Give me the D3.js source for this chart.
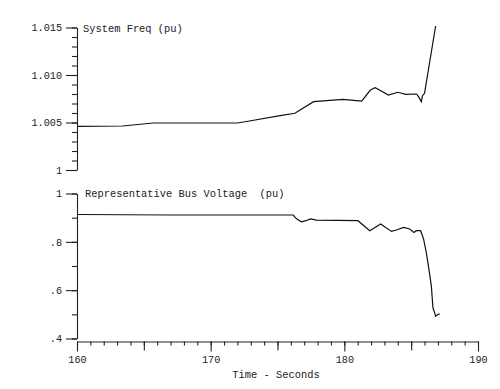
<!DOCTYPE html>
<html>
<head>
<meta charset="utf-8">
<script src="https://cdn.jsdelivr.net/npm/d3@7"></script>
<style>
  body { margin: 0; background: #fff; }
  text { font-family: "Liberation Mono", "DejaVu Sans Mono", monospace; fill: #222; }
  .axis text { font-size: 10.2px; }
  .label { font-size: 10.4px; white-space: pre; }
</style>
</head>
<body>
<svg width="500" height="389"></svg>
<script>
"use strict";

// system frequency (pu) vs time (s)
const freqTime = [160, 163.4, 165.7, 172.0, 172.9, 175.2, 176.3, 177.7, 179.9, 181.3, 181.95, 182.3, 182.5, 183.3, 184.0, 184.6, 185.4, 185.55, 185.76, 185.84, 186.0, 186.83];
const freqValue = [1.0046, 1.00463, 1.00495, 1.00495, 1.00516, 1.00572, 1.00597, 1.00719, 1.00744, 1.00726, 1.00842, 1.00866, 1.00853, 1.00789, 1.00818, 1.00797, 1.0080, 1.00772, 1.00719, 1.00779, 1.00807, 1.01516];

// representative bus voltage (pu) vs time (s)
const voltTime = [160, 167, 176.17, 176.42, 176.79, 177.12, 177.47, 177.92, 181.02, 181.9, 182.72, 183.52, 183.89, 184.44, 184.89, 185.21, 185.39, 185.71, 185.93, 186.13, 186.33, 186.51, 186.63, 186.76, 186.83, 187.0, 187.13];
const voltValue = [0.913, 0.911, 0.911, 0.895, 0.883, 0.8875, 0.895, 0.890, 0.8875, 0.846, 0.874, 0.843, 0.849, 0.860, 0.853, 0.839, 0.846, 0.846, 0.811, 0.756, 0.686, 0.617, 0.527, 0.506, 0.492, 0.499, 0.502];

const freqTicks = [1, 1.005, 1.010, 1.015];
const freqTickLabels = ["1", "1.005", "1.010", "1.015"];
const voltTicks = [0.4, 0.6, 0.8, 1];
const voltTickLabels = [".4", ".6", ".8", "1"];
const timeTicks = [160, 170, 180, 190];

const svg = d3.select("svg");

const xScale = d3.scaleLinear().domain([160, 190]).range([77, 478]);
const yFreq = d3.scaleLinear().domain([1, 1.015]).range([170, 27.5]);
const yVolt = d3.scaleLinear().domain([0.4, 1]).range([338.5, 193.5]);

const styleAxis = g => {
  g.selectAll("path, line").attr("stroke", "#222").attr("stroke-width", 1.1);
  g.selectAll("text").attr("fill", "#222");
};

// y axis helper: major ticks with labels + minor ticks
const drawY = (scale, ticks, labels, minorStep) => {
  const [lo, hi] = scale.domain();
  const minor = d3.range(lo, hi + minorStep / 2, minorStep);
  svg.append("g")
    .attr("class", "axis")
    .attr("transform", "translate(77,0)")
    .call(d3.axisLeft(scale).tickValues(minor).tickSize(5).tickSizeOuter(0).tickFormat(""))
    .call(styleAxis);
  const major = svg.append("g")
    .attr("class", "axis")
    .attr("transform", "translate(77,0)")
    .call(d3.axisLeft(scale).tickValues(ticks).tickSize(11).tickSizeOuter(0)
      .tickPadding(4)
      .tickFormat((d, i) => labels[i]))
    .call(styleAxis);
  major.select(".domain").remove();
};

drawY(yFreq, freqTicks, freqTickLabels, 0.001);
drawY(yVolt, voltTicks, voltTickLabels, 0.1);

// x axis: 1 s minor, 5 s medium, 10 s labelled
const xAxisG = svg.append("g")
  .attr("class", "axis")
  .attr("transform", "translate(0,341.5)");
xAxisG.append("g")
  .call(d3.axisBottom(xScale).tickValues(d3.range(160, 191, 1)).tickSize(4).tickSizeOuter(0).tickFormat(""))
  .call(styleAxis);
xAxisG.append("g")
  .call(d3.axisBottom(xScale).tickValues(d3.range(165, 190, 10)).tickSize(9).tickSizeOuter(0).tickFormat(""))
  .call(g => g.select(".domain").remove())
  .call(styleAxis);
xAxisG.append("g")
  .call(d3.axisBottom(xScale).tickValues(timeTicks).tickSize(10).tickSizeOuter(0).tickPadding(4).tickFormat(d3.format("d")))
  .call(g => g.select(".domain").remove())
  .call(styleAxis);

const line = (ys, times, values) => d3.line()
  .x((d, i) => xScale(times[i]))
  .y((d, i) => ys(values[i]))(times);

svg.append("path")
  .attr("d", line(yFreq, freqTime, freqValue))
  .attr("fill", "none")
  .attr("stroke", "#111")
  .attr("stroke-width", 1.2);

svg.append("path")
  .attr("d", line(yVolt, voltTime, voltValue))
  .attr("fill", "none")
  .attr("stroke", "#111")
  .attr("stroke-width", 1.2);

svg.append("text")
  .attr("class", "label")
  .attr("x", 83)
  .attr("y", 31.5)
  .text("System Freq (pu)");

svg.append("text")
  .attr("class", "label")
  .attr("x", 85)
  .attr("y", 197)
  .text("Representative Bus Voltage  (pu)");

svg.append("text")
  .attr("class", "label")
  .attr("x", 276)
  .attr("y", 377.5)
  .attr("text-anchor", "middle")
  .text("Time - Seconds");
</script>
</body>
</html>
